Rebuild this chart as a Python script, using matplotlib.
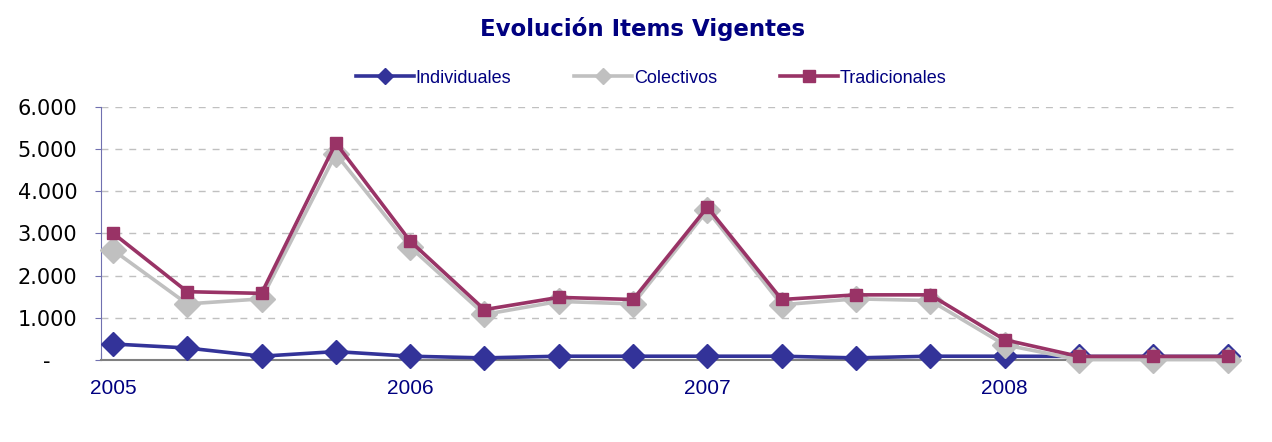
import matplotlib
matplotlib.use("Agg")
import matplotlib.pyplot as plt
import numpy as np

# quarterly values 2005-2008
years = ["2005", "2006", "2007", "2008"]
individuales = [380, 285, 90, 200, 90, 50, 90, 90, 90, 90, 50, 90, 90, 85, 85, 85]
colectivos = [2610, 1330, 1450, 4890, 2680, 1080, 1390, 1330, 3550, 1310, 1450, 1410, 360, 10, 10, 10]
tradicionales = [3010, 1620, 1580, 5145, 2820, 1195, 1485, 1435, 3625, 1435, 1545, 1545, 480, 85, 85, 85]
yticks = [0, 1000, 2000, 3000, 4000, 5000, 6000]
ytick_labels = ["-    ", "1.000", "2.000", "3.000", "4.000", "5.000", "6.000"]

navy = "#000080"
x = np.arange(len(tradicionales))

fig = plt.figure(figsize=(12.72, 4.42), dpi=100)
ax = fig.add_axes([0.0794, 0.1855, 0.8956, 0.5725])

ax.plot(x, individuales, color="#333399", lw=2.6, marker="D", ms=12,
        label="Individuales", clip_on=False, zorder=3)
ax.plot(x, colectivos, color="#C0C0C0", lw=2.6, marker="D", ms=13,
        label="Colectivos", clip_on=False, zorder=4)
ax.plot(x, tradicionales, color="#993366", lw=2.6, marker="s", ms=9,
        label="Tradicionales", clip_on=False, zorder=5)

ax.set_xlim(-0.16, 15.17)
ax.set_ylim(0, 6000)

ax.set_yticks(yticks)
ax.set_yticklabels(ytick_labels, fontsize=15, family="DejaVu Sans")
ax.tick_params(axis="y", direction="out", length=4, color="#7070b0", pad=13)

# year labels on the first quarter, tick marks just left of them
ax.set_xticks([-0.16, 3.86, 7.87, 11.87])
ax.set_xticklabels([])
ax.tick_params(axis="x", direction="in", length=5, color="#808080")
ax.set_xticks([0, 4, 8, 12], minor=True)
ax.set_xticklabels(years, minor=True, fontsize=15, color=navy, family="Liberation Sans")
ax.tick_params(axis="x", which="minor", length=0, pad=14)

ax.grid(axis="y", color="#c0c0c0", linestyle=(0, (5, 5)), lw=1)
ax.set_axisbelow(True)
for s in ["top", "right"]:
    ax.spines[s].set_visible(False)
ax.spines["left"].set_color("#7070b0")
ax.spines["bottom"].set_color("#808080")
ax.spines["bottom"].set_linewidth(1.5)

fig.text(0.505, 0.935, "Evolución Items Vigentes", ha="center", va="center",
         fontsize=16.5, fontweight="bold", color=navy, family="DejaVu Sans")

leg = fig.legend(loc="center", bbox_to_anchor=(0.512, 0.823), ncol=3, frameon=False,
                 handlelength=3.2, columnspacing=3.5, handletextpad=0.1,
                 prop={"family": "Liberation Sans", "size": 13})
for t in leg.get_texts():
    t.set_color(navy)
for h in leg.legend_handles:
    h.set_markersize(8)

fig.savefig("out.png", dpi=100)
